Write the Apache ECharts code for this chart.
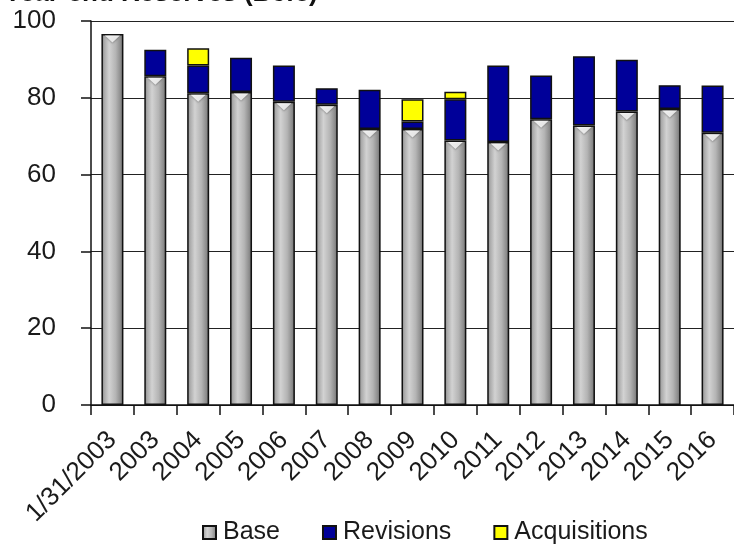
<!DOCTYPE html>
<html>
<head>
<meta charset="utf-8">
<script src="https://cdn.jsdelivr.net/npm/echarts@6/dist/echarts.min.js"></script>
<style>
html,body{margin:0;padding:0;background:#fff;}
#chart{width:734px;height:545px;}
</style>
</head>
<body>
<div id="chart"></div>
<script>
var categories = ['1/31/2003','2003','2004','2005','2006','2007','2008','2009','2010','2011','2012','2013','2014','2015','2016'];
var baseValues = [96.6, 85.6, 81.2, 81.5, 79.0, 78.2, 71.9, 71.9, 68.9, 68.5, 74.4, 72.8, 76.4, 77.1, 70.9];
var revisionValues = [null, 6.9, 7.2, 8.9, 9.4, 4.3, 10.2, 1.9, 10.7, 19.9, 11.4, 18.0, 13.5, 6.2, 12.3];
var acquisitionValues = [null, null, 4.5, null, null, null, null, 5.8, 2.0, null, null, null, null, null, null];
var yTicks = [0, 20, 40, 60, 80, 100];
var titleText = 'Year-end Reserves (Bcfe)';

var FONT = 'Liberation Sans';
var chart = echarts.init(document.getElementById('chart'), null, {renderer: 'canvas'});

var baseGrad = new echarts.graphic.LinearGradient(0, 0, 1, 0, [
  {offset: 0, color: '#7a7a7a'},
  {offset: 0.12, color: '#a8a8a8'},
  {offset: 0.35, color: '#d2d2d2'},
  {offset: 0.65, color: '#b4b4b4'},
  {offset: 0.88, color: '#8a8a8a'},
  {offset: 1, color: '#5a5a5a'}
]);

var option = {
  animation: false,
  backgroundColor: '#ffffff',
  textStyle: {fontFamily: FONT},
  graphic: [{
    type: 'text',
    left: 4,
    top: -19,
    style: {text: titleText, font: 'bold 26px "Liberation Sans"', fill: '#111'}
  }],
  legend: {
    top: 520,
    left: 202,
    padding: 0,
    itemWidth: 13,
    itemHeight: 13,
    itemGap: 42,
    icon: 'rect',
    textStyle: {fontFamily: FONT, fontSize: 25, color: '#1a1a1a', padding: [0, 0, 0, 2]},
    data: ['Base', 'Revisions', 'Acquisitions']
  },
  grid: {left: 91, right: -4, top: 21, bottom: 140, containLabel: false},
  xAxis: {
    type: 'category',
    data: categories,
    boundaryGap: true,
    axisLine: {show: true, lineStyle: {color: '#111', width: 1.5}},
    axisTick: {show: true, length: 10, inside: false, lineStyle: {color: '#111', width: 1.5}},
    axisLabel: {rotate: 45, margin: 31, fontFamily: FONT, fontSize: 26, color: '#1a1a1a', interval: 0},
    splitLine: {show: false}
  },
  yAxis: {
    type: 'value',
    min: yTicks[0],
    max: yTicks[yTicks.length - 1],
    interval: yTicks[1] - yTicks[0],
    axisLine: {show: true, lineStyle: {color: '#111', width: 1.5}},
    axisTick: {show: true, length: 10, inside: false, lineStyle: {color: '#111', width: 1.5}},
    axisLabel: {margin: 35, fontFamily: FONT, fontSize: 26, color: '#1a1a1a'},
    splitLine: {show: true, lineStyle: {color: '#222', width: 1.2}}
  },
  series: [
    {
      name: 'Base',
      type: 'bar',
      stack: 'total',
      barWidth: 22,
      data: baseValues,
      itemStyle: {color: baseGrad, borderColor: '#111', borderWidth: 1.5}
    },
    {
      name: 'Revisions',
      type: 'bar',
      stack: 'total',
      barWidth: 22,
      data: revisionValues,
      itemStyle: {color: '#000099', borderColor: '#111', borderWidth: 1.5}
    },
    {
      name: 'Acquisitions',
      type: 'bar',
      stack: 'total',
      barWidth: 22,
      data: acquisitionValues,
      itemStyle: {color: '#ffff00', borderColor: '#111', borderWidth: 1.5}
    },
    {
      name: 'cap',
      type: 'scatter',
      data: baseValues,
      symbol: 'triangle',
      symbolRotate: 180,
      symbolSize: [15, 7],
      symbolOffset: [0, 5],
      silent: true,
      z: 5,
      itemStyle: {color: '#ffffff', shadowColor: 'rgba(0,0,0,0.35)', shadowBlur: 2, shadowOffsetY: 1}
    }
  ]
};
chart.setOption(option);
</script>
</body>
</html>
